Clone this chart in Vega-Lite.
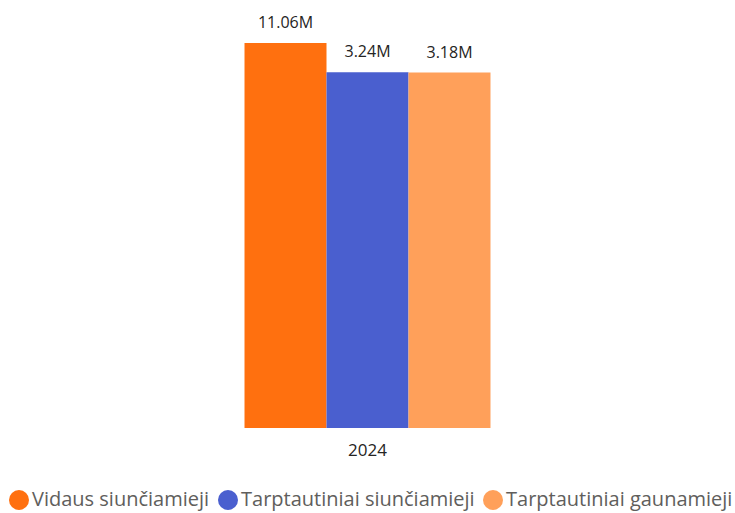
{
  "$schema": "https://vega.github.io/schema/vega-lite/v6.json",
  "autosize": "none",
  "width": 735,
  "height": 385,
  "padding": {"left": 0, "top": 43, "right": 0, "bottom": 85},
  "background": "white",
  "config": {
    "view": {"stroke": null},
    "font": "Open Sans"
  },
  "data": {
    "values": [
      {"year": "2024", "series": "Vidaus siunčiamieji", "value": 11060000},
      {"year": "2024", "series": "Tarptautiniai siunčiamieji", "value": 3240000},
      {"year": "2024", "series": "Tarptautiniai gaunamieji", "value": 3180000}
    ]
  },
  "transform": [
    {"calculate": "format(datum.value / 1000000, '.2f') + 'M'", "as": "label"}
  ],
  "encoding": {
    "x": {
      "field": "year",
      "type": "nominal",
      "scale": {"paddingInner": 0, "paddingOuter": 0.994},
      "axis": {
        "title": null,
        "domain": false,
        "ticks": false,
        "labelAngle": 0,
        "labelFontSize": 17,
        "labelColor": "#252423",
        "labelPadding": 14
      }
    },
    "xOffset": {
      "field": "series",
      "type": "nominal",
      "sort": ["Vidaus siunčiamieji", "Tarptautiniai siunčiamieji", "Tarptautiniai gaunamieji"],
      "scale": {"paddingInner": 0, "paddingOuter": 0}
    },
    "y": {
      "field": "value",
      "type": "quantitative",
      "scale": {"type": "log", "domain": [1, 11060000], "nice": false},
      "axis": null
    }
  },
  "layer": [
    {
      "mark": {"type": "bar"},
      "encoding": {
        "y2": {"datum": 1},
        "color": {
          "field": "series",
          "type": "nominal",
          "sort": ["Vidaus siunčiamieji", "Tarptautiniai siunčiamieji", "Tarptautiniai gaunamieji"],
          "scale": {
            "domain": ["Vidaus siunčiamieji", "Tarptautiniai siunčiamieji", "Tarptautiniai gaunamieji"],
            "range": ["#FF700F", "#4A5FCF", "#FFA05A"]
          },
          "legend": {
            "title": null,
            "orient": "none",
            "legendX": 9,
            "legendY": 447,
            "direction": "horizontal",
            "symbolType": "circle",
            "symbolSize": 400,
            "symbolStrokeWidth": 0,
            "labelFontSize": 20,
            "labelLimit": 0,
            "labelColor": "#605E5C",
            "labelOffset": 3,
            "columnPadding": 8
          }
        }
      }
    },
    {
      "mark": {"type": "text", "baseline": "bottom", "dy": -12, "fontSize": 16, "color": "#252423"},
      "encoding": {
        "text": {"field": "label", "type": "nominal"}
      }
    }
  ]
}
